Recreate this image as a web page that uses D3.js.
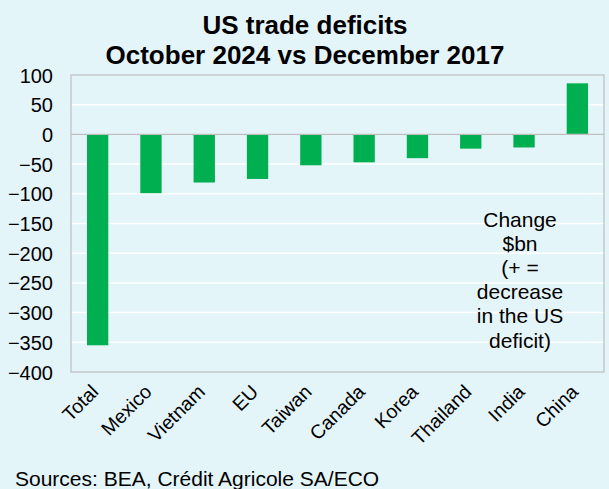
<!DOCTYPE html>
<html>
<head>
<meta charset="utf-8">
<script src="https://cdn.jsdelivr.net/npm/d3@7"></script>
<style>
  html, body { margin: 0; padding: 0; background: #e4f5fa; }
  svg { display: block; font-family: "Liberation Sans", Arial, sans-serif; }
</style>
</head>
<body>
<svg id="chart" width="609" height="489"></svg>
<script>
// Change in US bilateral trade balance, $bn (+ = smaller deficit)
const categories = ["Total", "Mexico", "Vietnam", "EU", "Taiwan", "Canada", "Korea", "Thailand", "India", "China"];
const changes = [-355, -99, -81, -75, -52, -47, -40, -24, -22, 86];
const yTicks = [100, 50, 0, -50, -100, -150, -200, -250, -300, -350, -400];
const titleLines = ["US trade deficits", "October 2024 vs December 2017"];
const noteLines = ["Change", "$bn", "(+ =", "decrease", "in the US", "deficit)"];
const sourceText = "Sources: BEA, Crédit Agricole SA/ECO";

const svg = d3.select("#chart");
const W = 609, H = 489;
const m = { top: 75, right: 5, bottom: 117, left: 71 };
const pw = W - m.left - m.right, ph = H - m.top - m.bottom;

svg.append("rect").attr("width", W).attr("height", H).attr("fill", "#e4f5fa");

const x = d3.scaleBand().domain(categories).range([0, pw]).paddingInner(0.6).paddingOuter(0.3);
const y = d3.scaleLinear().domain([-400, 100]).range([ph, 0]);

const g = svg.append("g").attr("transform", `translate(${m.left},${m.top})`);

// horizontal gridlines
g.selectAll("line.grid").data(yTicks.filter(t => t !== 0 && t !== 100 && t !== -400)).join("line")
  .attr("class", "grid")
  .attr("x1", 0).attr("x2", pw)
  .attr("y1", d => y(d)).attr("y2", d => y(d))
  .attr("stroke", "#ffffff").attr("stroke-width", 1.5);

// plot frame
g.append("rect").attr("x", 0).attr("y", 0).attr("width", pw).attr("height", ph)
  .attr("fill", "none").attr("stroke", "#bfbfbf").attr("stroke-width", 1.2);

// bars
g.selectAll("rect.bar").data(categories).join("rect")
  .attr("class", "bar")
  .attr("x", d => x(d))
  .attr("width", x.bandwidth())
  .attr("y", (d, i) => y(Math.max(0, changes[i])))
  .attr("height", (d, i) => Math.abs(y(changes[i]) - y(0)))
  .attr("fill", "#00b050");

// zero line
g.append("line").attr("x1", 0).attr("x2", pw).attr("y1", y(0)).attr("y2", y(0))
  .attr("stroke", "#bfbfbf").attr("stroke-width", 1.2);

// y axis labels
const yAxis = d3.axisLeft(y).tickValues(yTicks).tickSize(0).tickPadding(18);
const ya = g.append("g").call(yAxis);
ya.select(".domain").remove();
ya.selectAll("text").attr("font-size", 20).attr("fill", "#000").attr("dy", "0.35em")
  .style("font-family", "Liberation Sans, Arial, sans-serif");

// x axis labels, rotated
const xa = g.append("g").attr("transform", `translate(0,${ph})`);
xa.selectAll("text").data(categories).join("text")
  .attr("transform", d => `translate(${x(d) + x.bandwidth() / 2 + 2},${21}) rotate(-45)`)
  .attr("text-anchor", "end")
  .attr("font-size", 19.5)
  .attr("fill", "#000")
  .text(d => d);

// title
svg.selectAll("text.title").data(titleLines).join("text")
  .attr("class", "title")
  .attr("x", 305).attr("y", (d, i) => 34 + i * 30)
  .attr("text-anchor", "middle")
  .attr("font-size", 26).attr("font-weight", "bold").attr("fill", "#000")
  .text(d => d);

// unit note
svg.selectAll("text.note").data(noteLines).join("text")
  .attr("class", "note")
  .attr("x", 520).attr("y", (d, i) => 227 + i * 24.1)
  .attr("text-anchor", "middle")
  .attr("font-size", 21).attr("fill", "#000")
  .text(d => d);

// source
svg.append("text").attr("x", 15).attr("y", 486)
  .attr("font-size", 21).attr("fill", "#000")
  .text(sourceText);
</script>
</body>
</html>
